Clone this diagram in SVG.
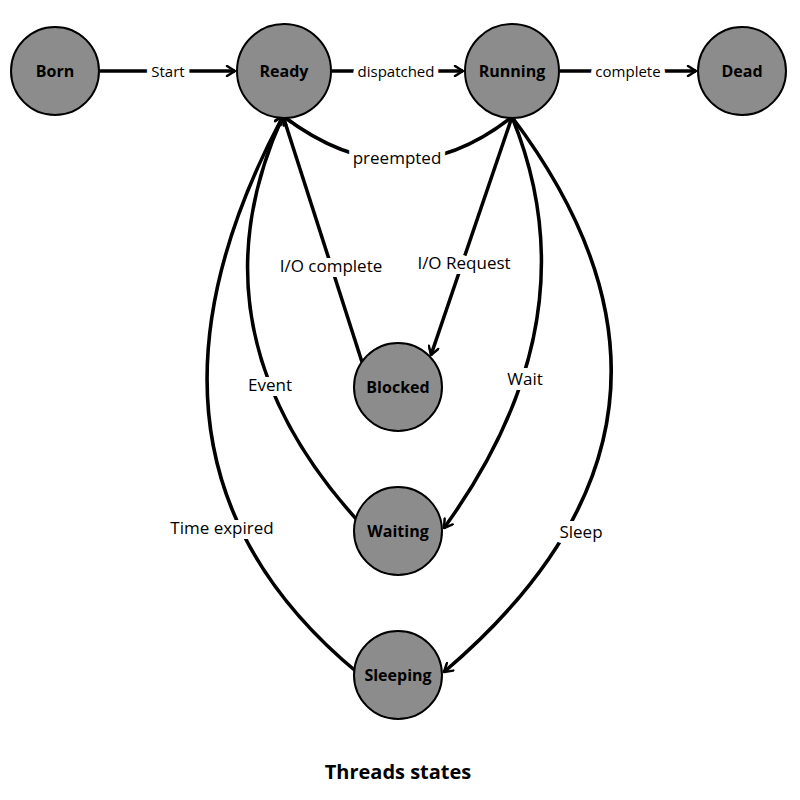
<svg xmlns="http://www.w3.org/2000/svg" width="800" height="800" viewBox="0 0 800 800">
<style>
.n{fill:#8c8c8c;stroke:#000;stroke-width:2}
.nt{font-family:"Open Sans","Liberation Sans",sans-serif;font-weight:bold;font-size:16px;text-anchor:middle;dominant-baseline:central}
.e{fill:none;stroke:#000;stroke-width:3.5;marker-end:url(#a)}
.l{font-family:"Open Sans","Liberation Sans",sans-serif;font-size:17px;text-anchor:middle;dominant-baseline:central;stroke:#fff;stroke-width:10;paint-order:stroke;fill:#000}
.ls{font-size:15px}
</style>
<defs>
<marker id="a" viewBox="0 0 12 12" refX="10" refY="6" markerWidth="12" markerHeight="12" markerUnits="userSpaceOnUse" orient="auto">
<path d="M2 1 L10 6 L2 11" fill="none" stroke="#000" stroke-width="2.5" stroke-linecap="round" stroke-linejoin="round"/>
</marker>
</defs>
<g id="connectors">
<path class="e" d="M100 71 L235 71"/>
<path class="e" d="M332 71 L463 71"/>
<path class="e" d="M560 71 L696 71"/>
<path class="e" d="M512 117 Q400 205 283 116"/>
<path class="e" d="M362 362 L283 116"/>
<path class="e" d="M512 117 L431 355"/>
<path class="e" d="M358 521 Q185 330 283 116"/>
<path class="e" d="M512 117 Q595 320 444 528"/>
<path class="e" d="M358 673 Q100 460 283 116"/>
<path class="e" d="M512 117 Q740 420 444 672"/>
<text class="l ls" x="168" y="71">Start</text>
<text class="l ls" x="396" y="71">dispatched</text>
<text class="l ls" x="628" y="71">complete</text>
<text class="l" x="397" y="157">preempted</text>
<text class="l" x="331" y="265">I/O complete</text>
<text class="l" x="464" y="262">I/O Request</text>
<text class="l" x="270" y="384">Event</text>
<text class="l" x="525" y="378">Wait</text>
<text class="l" x="222" y="527">Time expired</text>
<text class="l" x="581" y="531">Sleep</text>
</g>
<g id="born"><circle class="n" cx="55" cy="71" r="44"/><text class="nt" x="55" y="71">Born</text></g>
<g id="ready"><circle class="n" cx="284" cy="71" r="47"/><text class="nt" x="284" y="71">Ready</text></g>
<g id="running"><circle class="n" cx="512" cy="71" r="47"/><text class="nt" x="512" y="71">Running</text></g>
<g id="dead"><circle class="n" cx="742" cy="71" r="44"/><text class="nt" x="742" y="71">Dead</text></g>
<g id="blocked"><circle class="n" cx="398" cy="387" r="44"/><text class="nt" x="398" y="387">Blocked</text></g>
<g id="waiting"><circle class="n" cx="398" cy="531" r="44"/><text class="nt" x="398" y="531">Waiting</text></g>
<g id="sleeping"><circle class="n" cx="398" cy="675" r="44"/><text class="nt" x="398" y="675">Sleeping</text></g>
<text x="398" y="771" font-family="Open Sans, Liberation Sans, sans-serif" font-weight="bold" font-size="20" text-anchor="middle" dominant-baseline="central">Threads states</text>
</svg>
